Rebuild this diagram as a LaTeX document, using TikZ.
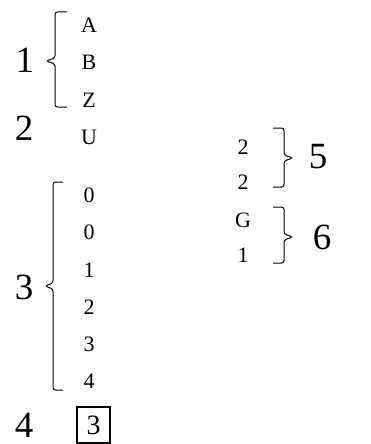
\documentclass[tikz,border=0pt]{standalone}
\usepackage{fontspec}
\setmainfont{Liberation Serif}
\usepackage{tikz}

\begin{document}
\begin{tikzpicture}[x=1pt, y=-1pt, every node/.style={inner sep=0pt},
  big/.style={font=\fontsize{37}{44}\selectfont},
  small/.style={font=\fontsize{22}{26}\selectfont},
  curly/.style={line width=1pt, rounded corners=2.5pt}]
  \useasboundingbox (0,0) rectangle (371,444);

  % first group (left)
  \node[big] (k1) at (25,60) {1};
  \node[small] (cA) at (89,25) {A};
  \node[small] (cB) at (89,62) {B};
  \node[small] (cZ) at (89,100) {Z};
  \coordinate (b1top) at (67,12);
  \draw[curly] (b1top) -- ++(-12,0) -- ++(0,46) -- ++(-9,3) -- ++(9,3)
    -- ++(0,43) -- ++(12,0);

  \node[big] (k2) at (24,128) {2};
  \node[small] (cU) at (89,137) {U};

  % digits (left)
  \node[big] (k3) at (24,287) {3};
  \node[small] (d1) at (89,195) {0};
  \node[small] (d2) at (89,232) {0};
  \node[small] (d3) at (89,270) {1};
  \node[small] (d4) at (89,307) {2};
  \node[small] (d5) at (89,344) {3};
  \node[small] (d6) at (89,381) {4};
  \coordinate (b3top) at (63,182);
  \draw[curly] (b3top) -- ++(-10,0) -- ++(0,101) -- ++(-8,3) -- ++(8,3)
    -- ++(0,101) -- ++(10,0);

  % boxed digit
  \node[big] (k4) at (24,425) {4};
  \node[draw, line width=2.5pt, minimum width=33pt, minimum height=36pt,
    font=\fontsize{28}{32}\selectfont] (chk) at (93.5,425) {3};

  % right side
  \node[small] (r1) at (243,147) {2};
  \node[small] (r2) at (243,182) {2};
  \node[big] (k5) at (318,157) {5};
  \coordinate (b5top) at (273,128);
  \draw[curly] (b5top) -- ++(11,0) -- ++(0,27) -- ++(9,3) -- ++(-9,3)
    -- ++(0,26) -- ++(-11,0);

  \node[small] (r3) at (243,220) {G};
  \node[small] (r4) at (243,255) {1};
  \node[big] (k6) at (322,237) {6};
  \coordinate (b6top) at (273,207);
  \draw[curly] (b6top) -- ++(11,0) -- ++(0,27) -- ++(9,3) -- ++(-9,3)
    -- ++(0,23) -- ++(-11,0);
\end{tikzpicture}
\end{document}
